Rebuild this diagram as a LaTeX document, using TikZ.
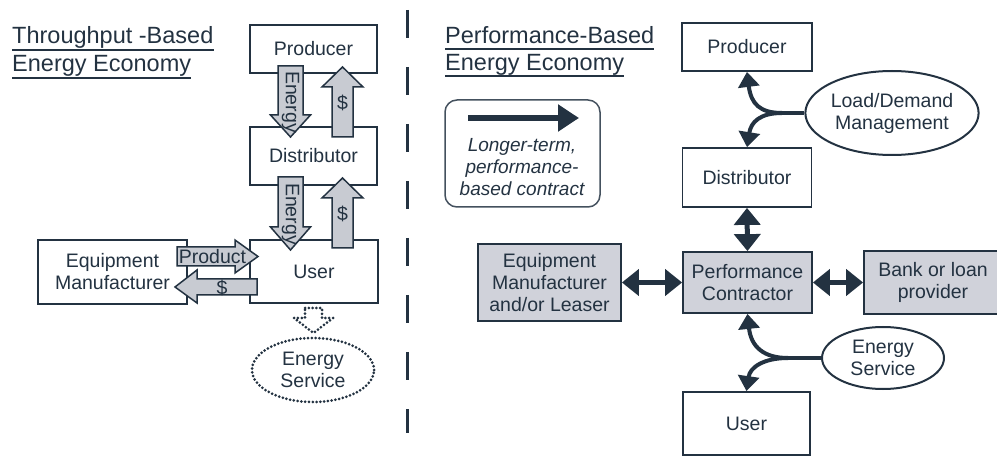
\documentclass[tikz,border=0pt]{standalone}
\usepackage{fontspec}
\setmainfont{Liberation Sans}
\usetikzlibrary{arrows.meta,shapes.geometric}
\definecolor{ink}{RGB}{35,50,65}
\definecolor{gfill}{RGB}{200,203,210}
\definecolor{bfill}{RGB}{208,210,218}
\newcommand\btxt{\fontsize{19.5}{22}\selectfont}
\newcommand\ttxt{\fontsize{23.5}{27}\selectfont}
\begin{document}
\begin{tikzpicture}[x=1pt,y=-1pt,
  every node/.style={text=ink},
  box/.style={draw=ink,line width=1.8pt,fill=white,inner sep=0pt,align=center,font=\btxt},
  gbox/.style={box,fill=bfill},
  ttl/.style={inner sep=0pt,font=\ttxt,anchor=base west},
  uline/.style={draw=ink,line width=2pt},
  barrow/.style={draw=ink,fill=gfill,line width=1.5pt,line join=miter},
  atxt/.style={inner sep=0pt,font=\btxt},
  dots/.style={draw=ink,line width=3pt,line cap=round,dash pattern=on 0pt off 3.8pt},
  oval/.style={ellipse,draw=ink,line width=2pt,inner sep=0pt,align=center,font=\btxt},
  carrow/.style={draw=ink,line width=4pt,-{Triangle[length=15pt,width=21pt]}},
  darrow/.style={draw=ink,line width=5pt,{Triangle[length=17pt,width=26pt]}-{Triangle[length=17pt,width=26pt]}}
]
\useasboundingbox (0,0) rectangle (997,457);
\clip (0,0) rectangle (997,457);

% ---------- titles ----------
\node[ttl] (t1a) at (12,44) {Throughput -Based};
\node[ttl] (t1b) at (12,72) {Energy Economy};
\draw[uline] ([yshift=-6pt]t1a.base west) -- ([yshift=-6pt]t1a.base east);
\draw[uline] ([yshift=-6pt]t1b.base west) -- ([yshift=-6pt]t1b.base east);
\node[ttl] (t2a) at (445,44) {Performance-Based};
\node[ttl] (t2b) at (445,71) {Energy Economy};
\draw[uline] ([yshift=-5pt]t2a.base west) -- ([yshift=-5pt]t2a.base east);
\draw[uline] ([yshift=-5pt]t2b.base west) -- ([yshift=-5pt]t2b.base east);

% ---------- divider ----------
\coordinate (dv1) at (407,10);
\coordinate (dv2) at (407,433);
\draw[ink,line width=3pt,dash pattern=on 28pt off 29pt] (dv1) -- (dv2);

% ---------- left: throughput-based ----------
\node[box,minimum width=127pt,minimum height=48pt] (pr1) at (313.5,49) {Producer};
\node[box,minimum width=127pt,minimum height=58pt] (di1) at (313.5,156) {Distributor};
\node[box,minimum width=128pt,minimum height=63pt] (us1) at (314,271.5) {User};
\node[box,minimum width=149pt,minimum height=64pt] (eq1) at (112.5,272) {Equipment\\Manufacturer};

% block arrows
\draw[barrow] (278,66) -- (303,66) -- (303,115) -- (310.5,115) -- (290.5,137) -- (270.5,115) -- (278,115) -- cycle;
\draw[barrow] (332,137) -- (353,137) -- (353,87) -- (363,87) -- (342.5,67) -- (322,87) -- (332,87) -- cycle;
\draw[barrow] (278,177) -- (303,177) -- (303,227) -- (310.5,227) -- (290.5,250) -- (270.5,227) -- (278,227) -- cycle;
\draw[barrow] (332,248) -- (353,248) -- (353,198) -- (363,198) -- (342.5,178) -- (322,198) -- (332,198) -- cycle;
\draw[barrow] (177,247) -- (235,247) -- (235,240) -- (258,256.5) -- (235,273) -- (235,266) -- (177,266) -- cycle;
\draw[barrow] (257,279) -- (197,279) -- (197,270) -- (175,287) -- (197,303) -- (197,295) -- (257,295) -- cycle;
\node[atxt,rotate=-90] (en1) at (290.5,102) {Energy};
\node[atxt,rotate=-90] (en2) at (290.5,214) {Energy};
\node[atxt] (d1) at (342.5,103) {\$};
\node[atxt] (d2) at (342.5,214) {\$};
\node[atxt] (prd) at (212.5,257) {Product};
\node[atxt] (d3) at (222,288) {\$};

% dotted open arrow and energy service
\draw[dots] (305,308) -- (322,308) -- (322,318) -- (333,318) -- (313.5,333) -- (294,318) -- (305,318) -- cycle;
\node[ellipse,dots,inner sep=0pt,align=center,font=\btxt,minimum width=122pt,minimum height=64pt] (es1) at (313,370) {Energy\\Service};

% ---------- right: performance-based ----------
\node[draw=ink!85,line width=1.5pt,rounded corners=12pt,minimum width=155pt,minimum height=107pt,inner sep=0pt] (leg) at (522.5,153.5) {};
\coordinate (la) at (468,118);
\coordinate (lb) at (579,118);
\draw[ink,line width=5.5pt,-{Triangle[length=21pt,width=26pt]}] (la) -- (lb);
\node[inner sep=0pt,align=center,font=\fontsize{19}{22}\selectfont\itshape] (legt) at (522,167) {Longer-term,\\performance-\\based contract};

\node[box,minimum width=130pt,minimum height=48pt] (pr2) at (747,47) {Producer};
\node[box,minimum width=129pt,minimum height=59pt] (di2) at (747,177.5) {Distributor};
\node[gbox,minimum width=129pt,minimum height=61pt] (pc) at (747.5,282.5) {Performance\\Contractor};
\node[gbox,minimum width=143pt,minimum height=77pt] (eq2) at (549.5,282.5) {Equipment\\Manufacturer\\and/or Leaser};
\node[gbox,minimum width=138pt,minimum height=63pt] (bk) at (933,282.5) {Bank or loan\\provider};
\node[box,minimum width=127pt,minimum height=63pt] (us2) at (746.5,423.5) {User};

\node[oval,minimum width=152pt,minimum height=84pt] (ld) at (892,113) {Load/Demand\\Management};
\node[oval,minimum width=122pt,minimum height=62pt] (es2) at (883,358) {Energy\\Service};

% double arrows
\draw[darrow] (di2.south) -- (pc.north);
\draw[darrow] (eq2.east) -- (pc.west);
\draw[darrow] (pc.east) -- (bk.west);

% curved arrows
\coordinate (j1) at (782,113);
\draw[ink,line width=4pt] (ld.west) -- (j1);
\draw[carrow] (j1) .. controls (760,113) and (751,104) .. (pr2.south);
\draw[carrow] (j1) .. controls (760,113) and (751,122) .. (di2.north);
\coordinate (j2) at (788,358);
\draw[ink,line width=4pt] (es2.west) -- (j2);
\draw[carrow] (j2) .. controls (764,358) and (751,347) .. (pc.south);
\draw[carrow] (j2) .. controls (764,358) and (750,367) .. (us2.north);
\end{tikzpicture}
\end{document}
